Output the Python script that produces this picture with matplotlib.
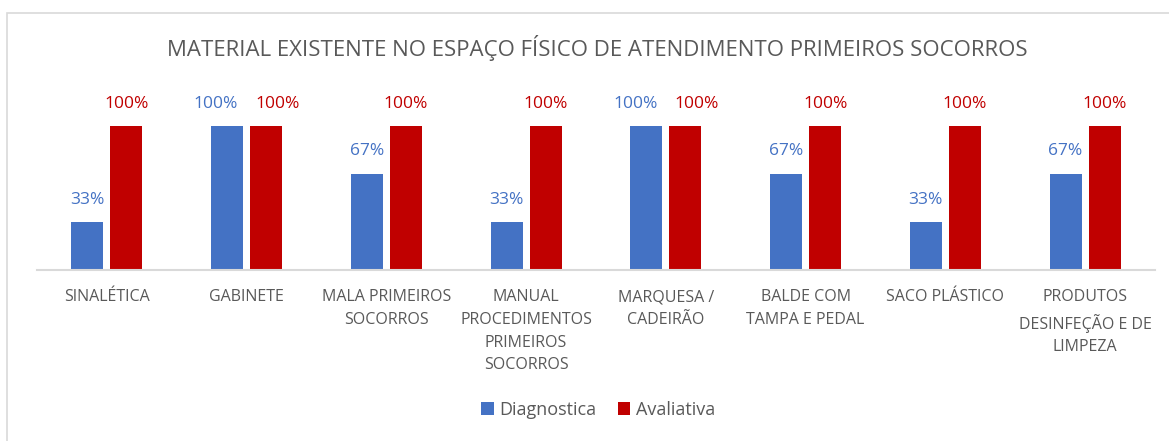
import matplotlib.pyplot as plt
from matplotlib.patches import Rectangle

categorias = ['SINALÉTICA', 'GABINETE', 'MALA PRIMEIROS\nSOCORROS',
              'MANUAL\nPROCEDIMENTOS\nPRIMEIROS\nSOCORROS', 'MARQUESA /\nCADEIRÃO',
              'BALDE COM\nTAMPA E PEDAL', 'SACO PLÁSTICO',
              'PRODUTOS\nDESINFEÇÃO E DE\nLIMPEZA']
diagnostica = [33, 100, 67, 33, 100, 67, 33, 67]
avaliativa = [100, 100, 100, 100, 100, 100, 100, 100]

azul = '#4472C4'
vermelho = '#C00000'
cinza = '#595959'

plt.rcParams['font.family'] = ['Open Sans', 'DejaVu Sans']

fig = plt.figure(figsize=(11.69, 4.41), dpi=100)
fig.patches.append(Rectangle((7 / 1169, -0.1), 1.2, 1 - 13 / 441 + 0.1,
                             transform=fig.transFigure, fill=False,
                             edgecolor='#D9D9D9', linewidth=1.2))

ax = fig.add_axes([37 / 1169, 1 - 270 / 441, 1118 / 1169, 144 / 441])
x = list(range(len(categorias)))
w = 0.229
off = 0.14
b1 = ax.bar([i - off for i in x], diagnostica, w, color=azul, label='Diagnostica')
b2 = ax.bar([i + off for i in x], avaliativa, w, color=vermelho, label='Avaliativa')

# rótulos afastados quando as duas barras têm a mesma altura
for i, (d, a) in enumerate(zip(diagnostica, avaliativa)):
    shift = 0.08 if d == a else 0
    ax.text(i - off - shift, d + 10, f'{d}%', ha='center', va='bottom', color=azul,
            fontsize=12.5, clip_on=False)
    ax.text(i + off + shift, a + 10, f'{a}%', ha='center', va='bottom', color=vermelho,
            fontsize=12.5, clip_on=False)

ax.set_xlim(-0.5, len(categorias) - 0.5)
ax.set_ylim(0, 100)
ax.set_yticks([])
ax.set_xticks(x)
ax.set_xticklabels(categorias, color=cinza, fontsize=11.5, linespacing=1.55)
ax.tick_params(axis='x', length=0, pad=14)
for s in ['top', 'right', 'left']:
    ax.spines[s].set_visible(False)
ax.spines['bottom'].set_color('#D9D9D9')
ax.spines['bottom'].set_linewidth(1.5)

fig.text(597 / 1169, 1 - 48 / 441, 'MATERIAL EXISTENTE NO ESPAÇO FÍSICO DE ATENDIMENTO PRIMEIROS SOCORROS',
         ha='center', va='center', color=cinza, fontsize=16)

fig.legend(handles=[b1, b2], loc='center', bbox_to_anchor=(598 / 1169, 1 - 410 / 441),
           ncol=2, frameon=False, fontsize=13, labelcolor=cinza,
           handlelength=0.7, handleheight=0.7, handletextpad=0.3, columnspacing=1.2)

fig.savefig('out.png', dpi=100)
